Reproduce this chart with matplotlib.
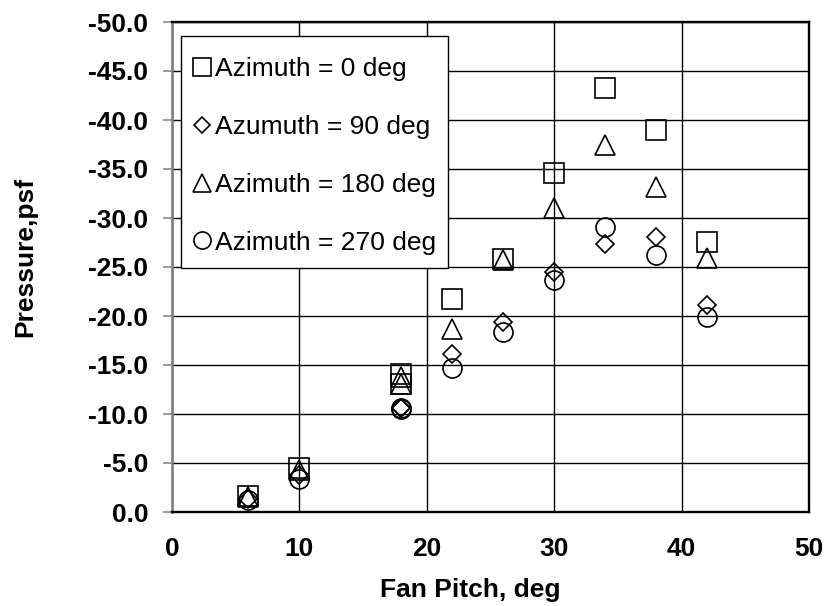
import matplotlib
matplotlib.use("Agg")
import matplotlib.pyplot as plt
from matplotlib.patches import Rectangle

plt.rcParams['font.family'] = ['Liberation Sans', 'DejaVu Sans']
plt.rcParams['axes.unicode_minus'] = False

fan_pitch = [6, 10, 18, 18, 22, 26, 30, 34, 38, 42]
az0 = [-1.6, -4.5, -14.1, -13.1, -21.7, -25.8, -34.6, -43.3, -39.0, -27.6]
az90 = [-1.3, -3.8, -10.6, -10.6, -16.1, -19.4, -24.5, -27.3, -28.1, -21.1]
az180 = [-1.5, -4.3, -13.8, -13.1, -18.7, -25.7, -31.0, -37.5, -33.2, -25.9]
az270 = [-1.2, -3.4, -10.6, -10.5, -14.7, -18.4, -23.7, -29.1, -26.2, -19.9]

labels = ["Azimuth = 0 deg", "Azumuth = 90 deg", "Azimuth = 180 deg", "Azimuth = 270 deg"]
x_ticks = [0, 10, 20, 30, 40, 50]
y_ticks = [0, -5, -10, -15, -20, -25, -30, -35, -40, -45, -50]

fig = plt.figure(figsize=(8.29, 6.06), dpi=100)
ax = fig.add_axes([172/829, 1-512/606, (809-172)/829, (512-22)/606])

series = [
    (az0, 's', 13.7),
    (az90, 'D', 9.2),
    (az180, '^', 13.7),
    (az270, 'o', 13.7),
]
for (vals, mk, ms), lab in zip(series, labels):
    ax.plot(fan_pitch, vals, linestyle='none', marker=mk, ms=ms,
            mfc='none', mec='black', mew=1.2, label=lab, zorder=3)

ax.set_xlim(0, 50)
ax.set_ylim(0, -50)
ax.set_xticks(x_ticks)
ax.set_yticks(y_ticks)
ax.set_xticklabels([str(v) for v in x_ticks])
ax.set_yticklabels(["%.1f" % v if v != 0 else "0.0" for v in y_ticks])

ax.grid(True, color='black', linewidth=1.0)
ax.set_axisbelow(True)

for s in ['top', 'right', 'bottom']:
    ax.spines[s].set_color('black')
    ax.spines[s].set_linewidth(1.7)
ax.spines['left'].set_color('#808080')
ax.spines['left'].set_linewidth(1.9)

ax.tick_params(axis='x', length=0, pad=18, labelsize=19)
ax.tick_params(axis='y', length=6.5, width=1.1, color='#808080', pad=10.5, labelsize=19)
for t in ax.get_xticklabels() + ax.get_yticklabels():
    t.set_fontweight('bold')

fig.text(470/829, 1-590/606, "Fan Pitch, deg", ha='center', va='center',
         fontsize=19, fontweight='bold')
fig.text(25/829, 1-256.5/606, "Pressure,psf", ha='center', va='center',
         rotation=90, fontsize=19, fontweight='bold')

# legend box (frame drawn separately)
box = Rectangle((9/637, (512-268)/490), (448-181)/637, (268-36)/490,
                transform=ax.transAxes, facecolor='white', edgecolor='black',
                linewidth=1.0, zorder=4)
ax.add_patch(box)

leg = ax.legend(loc='upper left', bbox_to_anchor=(9/637, (512-44)/490),
                borderaxespad=0, fontsize=19, markerscale=0.9, frameon=False,
                handlelength=0.6, handletextpad=0.2,
                labelspacing=1.28, borderpad=0.5)
leg.set_zorder(5)

fig.savefig("out.png", dpi=100)
